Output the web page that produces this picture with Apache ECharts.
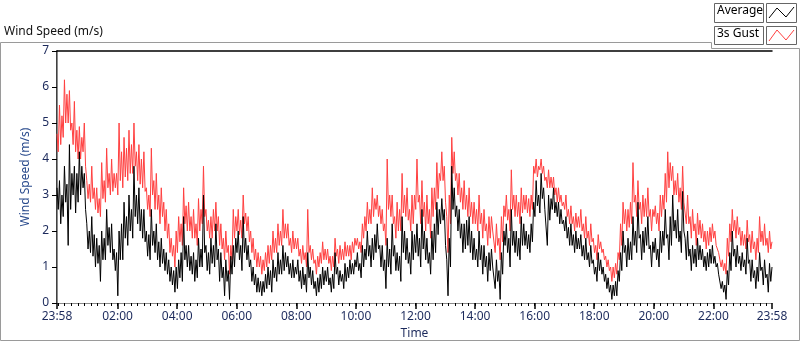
<!DOCTYPE html>
<html>
<head>
<meta charset="utf-8">
<script src="https://cdn.jsdelivr.net/npm/echarts@6/dist/echarts.min.js"></script>
<style>
  html, body { margin: 0; padding: 0; background: #fff; }
  #chart { width: 800px; height: 342px; }
</style>
</head>
<body>
<div id="chart"></div>
<script>
// one sample every 2.5 minutes, starting 23:58 (24 values = 1 hour per row)
var stepMin = 2.5;
var avgSpeed = [
  3.2,2.6,3.4,2.2,3.0,2.4,3.8,2.8,3.3,1.6,4.4,2.6,3.6,3.0,3.8,2.5,3.6,2.8,4.2,3.0,3.8,3.2,3.6,2.6,
  2.2,1.5,2.0,1.4,2.4,1.3,1.9,1.0,1.8,1.1,1.6,0.6,2.0,1.2,1.8,1.2,2.6,1.6,2.1,1.4,2.2,1.2,1.5,0.9,
  1.4,0.2,2.0,1.2,2.2,1.2,2.8,1.8,2.4,1.6,3.0,2.0,2.6,1.8,3.8,2.4,3.0,2.2,3.2,2.0,2.6,1.8,2.6,1.7,
  2.0,1.3,1.9,1.2,2.6,1.6,2.0,1.4,2.2,1.2,1.7,1.0,1.8,1.1,1.5,0.9,1.4,0.8,1.2,0.6,1.0,0.5,0.9,0.3,
  1.0,0.4,1.2,0.7,1.4,0.6,2.4,1.2,1.6,1.0,1.6,0.9,1.3,0.8,1.4,0.6,1.2,0.7,1.8,1.0,1.5,1.0,3.0,1.4,
  1.6,0.9,1.4,0.8,1.8,1.1,1.6,1.0,2.2,1.2,1.5,0.6,1.4,0.7,1.0,0.2,1.2,0.6,0.9,0.1,1.3,0.8,1.6,1.0,
  1.8,1.4,2.0,1.2,1.6,0.9,2.4,1.4,1.8,1.2,1.6,1.0,1.2,0.6,1.0,0.5,0.8,0.3,0.7,0.3,0.6,0.2,0.6,0.3,
  0.8,0.4,1.0,0.5,0.9,0.3,1.2,0.7,1.0,0.6,1.4,0.8,1.2,0.8,1.6,0.9,1.4,1.0,1.3,0.8,1.1,0.7,1.2,0.7,
  1.0,0.8,1.2,0.6,0.9,0.4,1.0,0.5,0.8,0.3,1.4,0.7,1.0,0.5,0.9,0.4,0.6,0.2,0.7,0.3,0.8,0.4,1.0,0.5,
  0.9,0.6,1.0,0.5,0.7,0.3,0.8,0.4,1.4,0.8,1.0,0.5,0.9,0.6,0.8,0.4,1.1,0.6,1.0,0.7,1.2,0.8,1.1,0.8,
  1.2,1.0,1.4,0.9,1.1,0.7,1.6,1.0,1.5,1.2,2.0,1.3,1.6,1.0,1.8,1.2,1.9,1.4,2.2,1.5,1.6,1.0,1.6,0.9,
  1.2,0.4,1.8,1.0,1.5,0.8,2.2,1.3,1.6,0.9,1.4,0.9,1.3,0.6,2.4,1.4,2.0,1.2,1.8,1.1,1.4,0.8,2.0,1.2,
  1.9,1.4,2.2,1.3,1.8,1.0,2.6,1.5,2.0,1.2,1.8,1.1,1.4,0.8,2.0,1.2,2.2,1.4,2.8,1.9,2.6,2.2,2.9,2.3,
  2.6,1.6,1.2,0.2,1.8,1.0,3.8,2.6,3.2,2.4,2.7,2.0,2.6,1.8,2.2,1.4,2.2,1.5,2.3,1.6,2.4,1.4,2.0,1.2,
  1.8,1.2,1.5,1.0,2.0,1.2,1.6,0.8,1.6,1.0,1.3,0.6,1.4,0.9,1.5,1.0,1.0,0.4,1.2,0.6,0.9,0.1,1.4,0.8,
  2.0,1.6,2.2,1.4,1.8,1.0,2.6,1.6,2.0,1.4,2.0,1.3,1.8,1.2,2.4,1.6,2.2,1.6,2.0,1.5,1.9,1.4,2.2,1.7,
  2.8,2.4,3.4,2.7,3.0,2.5,3.6,2.9,3.2,2.6,2.6,1.6,3.0,2.3,2.9,2.6,3.2,2.5,2.8,2.4,2.8,2.2,2.6,2.2,
  2.3,2.0,2.4,1.8,2.1,1.6,2.2,1.6,1.9,1.4,2.0,1.5,1.8,1.5,1.9,1.3,1.6,1.2,1.8,1.2,1.4,1.0,1.6,1.1,
  1.2,0.8,1.0,0.6,1.4,0.9,1.2,0.8,1.0,0.6,0.8,0.4,0.7,0.3,0.5,0.1,0.5,0.2,0.6,0.2,0.9,0.6,1.4,0.9,
  2.0,1.4,1.6,1.0,1.8,1.2,1.7,1.2,2.4,1.6,2.0,1.4,2.8,1.8,1.9,1.2,2.0,1.4,2.1,1.6,2.4,1.5,1.6,1.0,
  1.7,1.4,1.8,1.2,1.5,1.0,2.0,1.4,2.0,1.6,2.6,1.8,1.9,1.2,2.4,1.6,3.0,2.0,2.3,1.8,2.6,1.7,2.0,1.4,
  3.1,2.0,1.8,1.2,2.0,1.3,1.5,0.9,1.6,1.1,1.5,1.0,1.8,1.2,1.6,1.2,1.5,1.0,1.3,0.9,1.4,1.0,1.5,1.1,
  1.6,1.1,1.3,1.0,1.1,0.8,0.8,0.4,0.6,0.3,0.5,0.1,0.9,0.5,1.4,0.9,2.0,1.3,1.5,1.0,1.6,1.1,1.3,0.9,
  1.4,1.0,1.2,0.8,1.8,1.1,1.2,0.6,1.2,0.7,0.9,0.4,1.0,0.6,1.4,0.9,1.0,0.5,1.2,0.7,0.8,0.3,1.1,0.6,
  1.0
];
var gustSpeed = [
  4.7,4.2,5.5,4.4,5.2,4.6,6.2,5.0,5.8,5.0,5.9,4.8,5.0,4.4,5.6,4.2,4.8,4.0,4.9,4.0,4.6,4.2,5.0,3.8,
  3.4,2.9,3.3,2.8,3.8,2.9,3.2,2.6,3.2,2.5,2.9,2.4,3.9,2.9,3.4,2.8,4.3,3.2,3.6,3.0,4.0,3.1,3.6,3.2,
  3.6,3.0,5.0,3.4,4.2,3.2,4.6,3.5,4.3,3.4,4.8,3.6,4.4,3.6,5.0,3.8,4.2,3.4,4.4,3.3,4.0,3.2,4.2,3.1,
  3.2,2.6,3.0,2.4,4.3,3.0,3.4,2.6,3.6,2.6,3.0,2.2,3.2,2.4,2.8,2.0,2.6,1.8,2.2,1.4,1.8,1.3,1.6,1.0,
  2.0,1.4,2.4,1.7,2.2,1.6,3.2,2.2,2.7,2.0,2.8,2.0,2.4,1.8,2.6,1.8,2.2,1.6,2.9,2.0,2.6,2.2,3.8,2.4,
  2.6,2.0,2.3,1.8,2.4,1.8,2.6,2.0,2.8,2.0,2.4,1.6,2.2,1.5,1.8,1.2,2.0,1.4,1.6,0.8,1.6,1.2,2.6,1.8,
  2.4,2.0,2.6,1.9,2.3,1.8,3.0,2.2,2.5,2.0,2.4,1.7,2.0,1.4,1.8,1.2,1.5,1.0,1.4,1.0,1.3,0.8,1.2,0.9,
  1.4,1.0,1.6,1.1,1.6,1.2,2.0,1.4,1.8,1.4,2.2,1.6,2.0,1.6,2.6,1.8,2.2,1.8,2.2,1.6,1.8,1.4,2.0,1.5,
  1.8,1.5,1.8,1.3,1.5,1.1,1.6,1.2,1.4,1.0,2.6,1.4,1.6,1.2,1.5,1.1,1.2,0.8,1.3,1.0,1.4,1.1,1.7,1.2,
  1.5,1.2,1.5,1.1,1.3,0.9,1.3,1.0,1.8,1.3,1.5,1.1,1.6,1.2,1.5,1.2,1.7,1.3,1.6,1.3,1.6,1.2,1.7,1.4,
  1.8,1.6,1.8,1.5,1.7,1.4,2.2,1.8,2.4,2.0,2.8,2.2,2.6,2.2,3.2,2.4,2.9,2.6,3.0,2.4,2.7,2.2,2.6,2.0,
  2.2,1.6,4.0,2.6,3.0,2.4,3.0,2.2,2.4,1.8,2.8,2.0,2.6,2.0,3.6,2.5,3.0,2.4,3.2,2.3,2.6,2.0,3.0,2.2,
  3.0,2.6,4.0,2.8,3.0,2.2,3.4,2.4,2.8,2.0,3.0,2.2,2.6,1.8,3.2,2.4,3.2,2.6,3.9,2.9,3.6,3.4,4.2,3.4,
  3.8,2.8,2.4,1.4,3.0,2.2,4.6,3.6,4.2,3.4,3.6,3.0,3.6,2.8,3.2,2.6,3.4,2.6,3.0,2.4,3.2,2.4,2.8,2.2,
  2.8,2.2,2.6,2.0,3.0,2.2,2.5,1.8,2.6,2.0,2.2,1.6,2.4,1.8,2.4,2.0,2.0,1.4,2.2,1.6,1.8,1.2,2.4,1.7,
  2.7,2.4,3.0,2.3,2.6,2.0,3.7,2.6,3.0,2.4,3.0,2.4,2.8,2.2,3.2,2.5,3.0,2.6,3.0,2.5,2.9,2.4,3.0,2.6,
  3.8,3.6,4.0,3.5,3.8,3.7,4.0,3.6,3.8,3.4,3.5,3.2,3.7,3.2,3.5,3.2,3.5,3.0,3.2,2.8,3.2,2.8,3.0,2.7,
  2.8,2.6,3.0,2.4,2.6,2.2,2.7,2.2,2.4,2.0,2.5,2.1,2.4,2.1,2.6,2.0,2.2,1.8,2.4,1.8,2.0,1.6,2.2,1.7,
  1.8,1.4,1.6,1.2,1.9,1.5,1.7,1.4,1.5,1.2,1.3,1.0,1.2,0.9,1.0,0.6,1.0,0.7,1.1,0.8,1.4,1.2,2.2,1.6,
  2.8,2.2,2.6,2.0,2.6,2.1,2.8,2.2,3.9,2.8,3.0,2.4,3.4,2.6,2.8,2.2,3.0,2.4,2.9,2.4,3.2,2.4,2.6,2.0,
  2.6,2.4,2.7,2.2,2.5,2.0,3.0,2.4,3.0,2.6,3.6,2.8,4.2,3.2,3.9,3.4,3.8,3.0,3.4,3.0,3.6,2.8,3.2,2.6,
  3.8,2.8,2.8,2.2,3.0,2.2,2.4,1.8,2.6,2.0,2.2,1.6,2.5,1.9,2.3,1.8,2.2,1.7,2.0,1.5,2.0,1.6,2.1,1.7,
  2.2,1.8,2.0,1.6,1.6,1.4,1.4,1.0,1.2,0.9,1.1,0.8,1.8,1.3,2.2,1.7,2.6,2.0,2.3,1.8,2.4,1.9,2.1,1.6,
  2.0,1.6,1.9,1.5,2.3,1.7,1.9,1.4,2.0,1.5,1.7,1.2,1.8,1.4,2.4,1.7,2.0,1.6,2.2,1.6,1.8,1.4,2.0,1.5,
  1.7
];
// tick labels (minutes after 23:58)
var tickMinutes = [0, 122, 242, 362, 482, 602, 722, 842, 962, 1082, 1202, 1322, 1440];
var tickLabels = ['23:58', '02:00', '04:00', '06:00', '08:00', '10:00', '12:00',
                  '14:00', '16:00', '18:00', '20:00', '22:00', '23:58'];

var minorTicks = [];
for (var m = 122 - 9 * 40 / 3; m <= 1440.01; m += 40 / 3) minorTicks.push(m);

function toPairs(arr) {
  return arr.map(function (v, i) { return [i * stepMin, v]; });
}

var navy = '#1c2a5c';
var font = 'Noto Sans';

var chart = echarts.init(document.getElementById('chart'));
chart.setOption({
  animation: false,
  backgroundColor: '#fff',
  textStyle: { fontFamily: font },
  grid: { left: 57, right: 28, top: 51, bottom: 39, outerBoundsMode: 'none', containLabel: false },
  xAxis: [{
    type: 'value', min: 0, max: 1440, position: 'bottom',
    name: 'Time', nameLocation: 'middle', nameGap: 25,
    nameTextStyle: { color: navy, fontSize: 12, fontFamily: font },
    axisLine: { show: true, lineStyle: { color: '#8a8a8a', width: 1 } },
    axisTick: { show: true, customValues: minorTicks, length: 3, lineStyle: { color: '#000' } },
    axisLabel: {
      show: true, customValues: tickMinutes, color: navy, fontSize: 12, margin: 8,
      formatter: function (v) {
        var k = tickMinutes.indexOf(v);
        return k >= 0 ? tickLabels[k] : '';
      }
    },
    splitLine: { show: false }
  }, {
    type: 'value', min: 0, max: 1440, position: 'bottom',
    axisLine: { show: false },
    axisTick: { show: true, customValues: tickMinutes, length: 6, lineStyle: { color: '#000', width: 1.5 } },
    axisLabel: { show: false },
    splitLine: { show: false }
  }, {
    type: 'value', min: 0, max: 1440, position: 'top',
    axisLine: { show: true, lineStyle: { color: '#000', width: 1.5 } },
    axisTick: { show: false }, axisLabel: { show: false }, splitLine: { show: false }
  }],
  yAxis: [{
    type: 'value', min: 0, max: 7, interval: 1, position: 'left',
    name: 'Wind Speed (m/s)', nameLocation: 'middle', nameGap: 14, nameRotate: 90,
    nameTextStyle: { color: '#2a4b8d', fontSize: 12, fontFamily: font },
    axisLine: { show: true, lineStyle: { color: '#000', width: 1.5 } },
    axisTick: { show: true, length: 5, lineStyle: { color: '#000' } },
    axisLabel: { color: navy, fontSize: 12, margin: 8 },
    splitLine: { show: false }
  }, {
    type: 'value', min: 0, max: 7, position: 'right',
    axisLine: { show: true, lineStyle: { color: '#8a8a8a', width: 1 } },
    axisTick: { show: false }, axisLabel: { show: false }, splitLine: { show: false }
  }],
  series: [{
    name: '3s Gust', type: 'line', xAxisIndex: 0, yAxisIndex: 0,
    data: toPairs(gustSpeed), showSymbol: false,
    lineStyle: { color: '#ff4040', width: 1 }
  }, {
    name: 'Average', type: 'line', xAxisIndex: 0, yAxisIndex: 0,
    data: toPairs(avgSpeed), showSymbol: false,
    lineStyle: { color: '#000', width: 1 }
  }],
  graphic: [
    // panel frame
    { type: 'polyline', silent: true,
      shape: { points: [[0.5, 42.5], [711.5, 42.5], [711.5, 48.5], [799.5, 48.5], [799.5, 340.5], [0.5, 340.5], [0.5, 42.5]] },
      style: { fill: null, stroke: '#9a9a9a', lineWidth: 1 } },
    { type: 'text', left: 4, top: 26,
      style: { text: 'Wind Speed (m/s)', fill: '#111', font: '12px "Noto Sans"' } },
    // legend
    { type: 'rect', shape: { x: 714.5, y: 3.5, width: 49, height: 19 },
      style: { fill: '#fff', stroke: '#666', lineWidth: 1 } },
    { type: 'text', left: 717, top: 5,
      style: { text: 'Average', fill: '#000', font: '12px "Noto Sans"' } },
    { type: 'rect', shape: { x: 766.5, y: 3.5, width: 30, height: 19 },
      style: { fill: '#fff', stroke: '#666', lineWidth: 1 } },
    { type: 'polyline', shape: { points: [[769, 18], [777, 8], [786, 17], [794, 7]] },
      style: { fill: null, stroke: '#000', lineWidth: 1 } },
    { type: 'rect', shape: { x: 714.5, y: 26.5, width: 49, height: 18 },
      style: { fill: '#fff', stroke: '#666', lineWidth: 1 } },
    { type: 'text', left: 717, top: 28,
      style: { text: '3s Gust', fill: '#000', font: '12px "Noto Sans"' } },
    { type: 'rect', shape: { x: 766.5, y: 26.5, width: 30, height: 18 },
      style: { fill: '#fff', stroke: '#666', lineWidth: 1 } },
    { type: 'polyline', shape: { points: [[769, 41], [777, 30], [786, 40], [794, 30]] },
      style: { fill: null, stroke: '#ff4040', lineWidth: 1 } }
  ]
});
</script>
</body>
</html>
